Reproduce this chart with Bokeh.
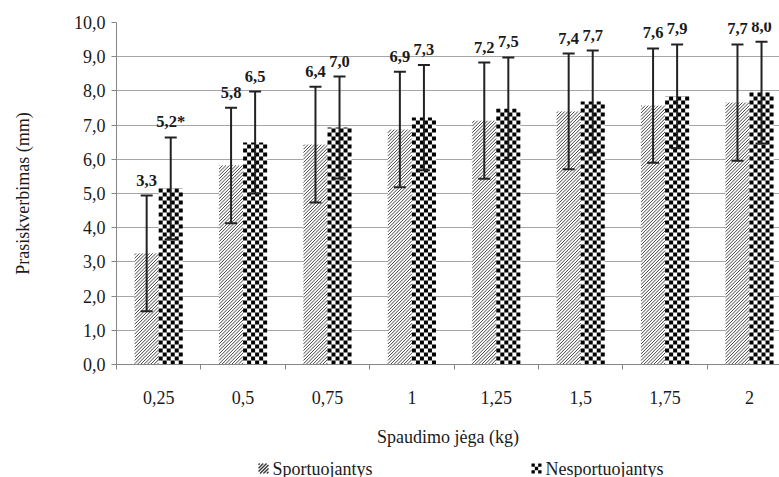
import numpy as np
from bokeh.plotting import figure
from bokeh.layouts import column
from bokeh.models import (ColumnDataSource, Range1d, FixedTicker, Whisker, TeeHead, LabelSet)
from bokeh.core.properties import value
from bokeh.embed import file_html
from bokeh.resources import INLINE

# ---- data ----
categories = ["0,25", "0,5", "0,75", "1", "1,25", "1,5", "1,75", "2"]
series_names = ["Sportuojantys", "Nesportuojantys"]
sport_mean = [3.25, 5.82, 6.43, 6.87, 7.13, 7.40, 7.57, 7.66]
sport_sd = [1.69, 1.69, 1.69, 1.69, 1.70, 1.69, 1.67, 1.70]
sport_labels = ["3,3", "5,8", "6,4", "6,9", "7,2", "7,4", "7,6", "7,7"]
nes_mean = [5.15, 6.49, 6.93, 7.22, 7.48, 7.69, 7.84, 7.95]
nes_sd = [1.49, 1.49, 1.49, 1.54, 1.50, 1.49, 1.52, 1.49]
nes_labels = ["5,2*", "6,5", "7,0", "7,3", "7,5", "7,7", "7,9", "8,0"]
y_ticks = [0, 1, 2, 3, 4, 5, 6, 7, 8, 9, 10]
y_tick_labels = ["0,0", "1,0", "2,0", "3,0", "4,0", "5,0", "6,0", "7,0", "8,0", "9,0", "10,0"]
x_title = "Spaudimo jėga (kg)"
y_title = "Prasiskverbimas (mm)"

FONT = "Liberation Serif"
BAR_W = 0.285
n = len(categories)
centers = np.arange(n) + 0.5

# layout: frame 116..779 px wide (category step 84.4 px), 22..364 px tall
FRAME_L = 116
PX_X = 84.4
PX_Y = 34.2
X_END = (779 - FRAME_L) / PX_X
MAIN_H = 450
LEG_H = 27


def make_src(mean, sd, labels, shift):
    mean = np.array(mean); sd = np.array(sd)
    return ColumnDataSource(dict(x=centers + shift, top=mean, upper=mean + sd,
                                 lower=mean - sd, lab=labels))


s_src = make_src(sport_mean, sport_sd, sport_labels, -BAR_W / 2)
n_src = make_src(nes_mean, nes_sd, nes_labels, BAR_W / 2)

p = figure(width=779, height=MAIN_H, output_backend="svg", toolbar_location=None,
           x_range=Range1d(0, X_END), y_range=Range1d(0, 10),
           min_border_left=FRAME_L, min_border_top=22, min_border_bottom=MAIN_H - 364,
           min_border_right=0)
p.outline_line_color = None
p.background_fill_color = "white"

# white bar bodies (hide the grid behind the patterns)
p.vbar(x="x", top="top", width=BAR_W, source=s_src, fill_color="white", line_color=None)
p.vbar(x="x", top="top", width=BAR_W, source=n_src, fill_color="white", line_color=None)

# diagonal-line pattern for the first series, clipped to each bar
period = 3.3  # px between lines
sx0, sy0, sx1, sy1 = [], [], [], []
for xc, top in zip(centers, sport_mean):
    left = xc - BAR_W
    wp, hp = BAR_W * PX_X, top * PX_Y
    c = -wp + period / 2
    while c < hp:
        a, b = max(0.0, -c), min(wp, hp - c)
        if b > a:
            sx0.append(left + a / PX_X); sy0.append((a + c) / PX_Y)
            sx1.append(left + b / PX_X); sy1.append((b + c) / PX_Y)
        c += period
p.segment(x0=sx0, y0=sy0, x1=sx1, y1=sy1, line_color="#444444", line_width=1.0)

# checkerboard pattern for the second series, clipped to each bar
cols = 6
cw, ch = BAR_W / cols, 4.0 / PX_Y
ql, qr, qb, qt = [], [], [], []
for xc, top in zip(centers, nes_mean):
    nrows = int(np.ceil(top / ch))
    for r in range(nrows):
        for cc in range(cols):
            if (r + cc) % 2 == 1:
                ql.append(xc + cc * cw); qr.append(xc + (cc + 1) * cw)
                qb.append(r * ch); qt.append(min((r + 1) * ch, top))
p.quad(left=ql, right=qr, bottom=qb, top=qt, fill_color="black", line_color=None)

for src in (s_src, n_src):
    w = Whisker(base="x", upper="upper", lower="lower", source=src,
                line_width=2, line_color="#222222", level="annotation",
                upper_head=TeeHead(size=12, line_width=2, line_color="#222222"),
                lower_head=TeeHead(size=12, line_width=2, line_color="#222222"))
    p.add_layout(w)
    ls = LabelSet(x="x", y="upper", text="lab", source=src, y_offset=10,
                  text_align="center", text_baseline="alphabetic",
                  text_font=value(FONT), text_font_size="16.5px",
                  text_font_style="bold", text_color="#1a1a1a")
    p.add_layout(ls)

# grid
p.xgrid.visible = False
p.ygrid.grid_line_color = "#a6a6a6"
p.ygrid.grid_line_width = 1

# x axis
xa = p.xaxis[0]
xa.ticker = FixedTicker(ticks=list(centers), minor_ticks=list(range(n + 1)))
xa.major_label_overrides = {float(c): lab for c, lab in zip(centers, categories)}
xa.major_tick_out = 0
xa.major_tick_in = 0
xa.minor_tick_out = 5
xa.minor_tick_in = 0
xa.minor_tick_line_color = "#868686"
xa.axis_line_color = "#868686"
xa.major_label_standoff = 21
xa.major_label_text_font = FONT
xa.major_label_text_font_size = "18px"
xa.major_label_text_color = "#1a1a1a"
xa.axis_label = x_title
xa.axis_label_text_font = FONT
xa.axis_label_text_font_size = "18px"
xa.axis_label_text_font_style = "normal"
xa.axis_label_text_color = "#1a1a1a"
xa.axis_label_standoff = 20

# y axis
ya = p.yaxis[0]
ya.ticker = FixedTicker(ticks=y_ticks, minor_ticks=[])
ya.major_label_overrides = {t: lab for t, lab in zip(y_ticks, y_tick_labels)}
ya.major_tick_out = 5
ya.major_tick_in = 0
ya.minor_tick_line_color = None
ya.major_tick_line_color = "#868686"
ya.axis_line_color = "#868686"
ya.major_label_standoff = 6
ya.major_label_text_font = FONT
ya.major_label_text_font_size = "18px"
ya.major_label_text_color = "#1a1a1a"
ya.axis_label = y_title
ya.axis_label_text_font = FONT
ya.axis_label_text_font_size = "18px"
ya.axis_label_text_font_style = "normal"
ya.axis_label_text_color = "#1a1a1a"
ya.axis_label_standoff = 38

# ---- legend strip (separate small figure; its frame is aligned with the main
#      frame by the column, so its x range is expressed in page pixels) ----
lf = figure(width=779, height=LEG_H, output_backend="svg", toolbar_location=None,
            x_range=Range1d(FRAME_L, 779), y_range=Range1d(0, LEG_H),
            x_axis_location=None, y_axis_location=None,
            min_border=0, min_border_left=0, min_border_right=0,
            min_border_top=0, min_border_bottom=0)
lf.outline_line_color = None
lf.grid.visible = False

icon_x = [258, 531]   # left edge of each legend swatch (px)
icon_y = 9            # vertical centre of the legend row (px from bottom of strip)
icon = 10             # swatch size (px)

# swatch 1: diagonal lines
dx0, dy0, dx1, dy1 = [], [], [], []
x_left = icon_x[0]
for c in np.arange(-icon + 1.7, icon, 3.4):
    a, b = max(0.0, -c), min(icon, icon - c)
    if b > a:
        dx0.append(x_left + a); dy0.append(icon_y - icon / 2 + a + c)
        dx1.append(x_left + b); dy1.append(icon_y - icon / 2 + b + c)
lf.segment(x0=dx0, y0=dy0, x1=dx1, y1=dy1, line_color="#3a3a3a", line_width=1.4)

# swatch 2: checkerboard
k = 3
cs = icon / k
cl, cr, cb, ct = [], [], [], []
for r in range(k):
    for cc in range(k):
        if (r + cc) % 2 == 0:
            cl.append(icon_x[1] + cc * cs); cr.append(icon_x[1] + (cc + 1) * cs)
            cb.append(icon_y - icon / 2 + r * cs); ct.append(icon_y - icon / 2 + (r + 1) * cs)
lf.quad(left=cl, right=cr, bottom=cb, top=ct, fill_color="black", line_color=None)

lf.text(x=[xx + icon + 4 for xx in icon_x], y=[icon_y, icon_y], text=series_names,
        text_align="left", text_baseline="middle", text_font=value(FONT),
        text_font_size="18px", text_color="#1a1a1a")

layout = column(p, lf, spacing=0)
open("out.html", "w").write(file_html(layout, INLINE))
